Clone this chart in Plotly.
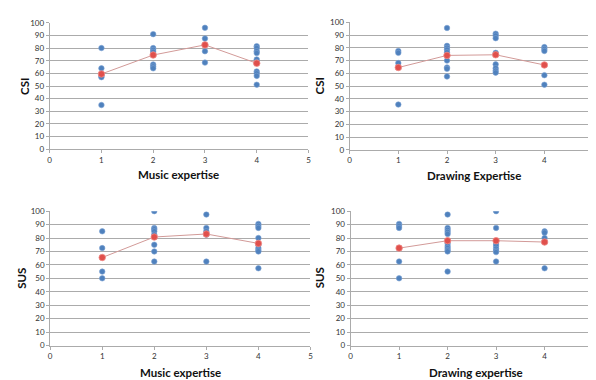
import plotly.graph_objects as go

# ---- data ----
levels = [1, 2, 3, 4]

csi_music = {
    1: [80, 64, 58, 57, 35],
    2: [91, 80, 78.5, 77, 75, 67, 65.5, 64],
    3: [96, 87.5, 82.5, 77.5, 68.5],
    4: [81.5, 80, 77.5, 76, 71, 69, 61.5, 60, 58, 51],
}
csi_music_mean = [59.5, 74.5, 82.5, 68]

csi_drawing = {
    1: [77.5, 76, 68, 35.5],
    2: [95.5, 81.5, 80, 78.5, 76.5, 70, 64.5, 63.5, 57.5],
    3: [91, 89.5, 87.5, 76, 67, 64, 62, 60.5],
    4: [80.5, 79, 77.5, 58.5, 51],
}
csi_drawing_mean = [64.5, 74, 74.5, 66.5]

sus_music = {
    1: [85, 72.5, 55, 50],
    2: [100, 87.5, 86.5, 85, 82.5, 75, 70, 62.5],
    3: [97.5, 87.5, 85, 82.5, 62.5],
    4: [90.5, 89, 87.5, 80, 75, 72.5, 71, 70, 57.5],
}
sus_music_mean = [65.5, 80.75, 83, 76]

sus_drawing = {
    1: [90.5, 89, 87.5, 72.5, 62.5, 50],
    2: [97.5, 87.5, 86, 84.5, 83, 76, 74, 72.5, 71, 70, 55],
    3: [100, 87.5, 75.5, 74, 72, 70.5, 69.5, 62.5],
    4: [85, 84, 80, 77, 57.5],
}
sus_drawing_mean = [72.5, 78, 78, 77]

x_ticks = [0, 1, 2, 3, 4, 5]
y_ticks = list(range(0, 101, 10))

panels = [
    (csi_music, csi_music_mean, "Music expertise", "CSI"),
    (csi_drawing, csi_drawing_mean, "Drawing Expertise", "CSI"),
    (sus_music, sus_music_mean, "Music expertise", "SUS"),
    (sus_drawing, sus_drawing_mean, "Drawing expertise", "SUS"),
]

W, H = 596, 380
# pixel boxes of each plot area: (left, right, top, bottom)
boxes = [
    (40, 301, 10, 140),
    (342.5, 588, 9.5, 140.5),
    (40.5, 303, 203.5, 341.5),
    (343.5, 588, 203.5, 341.5),
]
title_pos = [(170, 166, 14, 75), (468, 167, 312, 75), (172, 369, 12, 272), (470, 369, 312, 272)]

BLUE = "#4f81bd"
RED = "#e0504c"
GRID = "#ababab"
FONT = "Lato"

fig = go.Figure()
layout = dict(
    width=W, height=H, margin=dict(l=0, r=0, t=0, b=0),
    paper_bgcolor="white", plot_bgcolor="white", showlegend=False,
    font=dict(family=FONT, color="#333333", size=8),
)
annotations = []
for i, (pts, means, xt, yt) in enumerate(panels):
    n = i + 1
    xa = "x" if n == 1 else f"x{n}"
    ya = "y" if n == 1 else f"y{n}"
    xs, ys = [], []
    for lv in levels:
        for v in pts[lv]:
            xs.append(lv)
            ys.append(v)
    fig.add_trace(go.Scatter(
        x=xs, y=ys, mode="markers", xaxis=xa, yaxis=ya,
        marker=dict(color=BLUE, size=5.5, line=dict(color="#7ea3d4", width=0.6)),
        hoverinfo="x+y"))
    fig.add_trace(go.Scatter(
        x=levels, y=means, mode="lines+markers", xaxis=xa, yaxis=ya,
        line=dict(color="#d29a98", width=1),
        marker=dict(color=RED, size=6.5, line=dict(color="#f08a86", width=0.8)),
        hoverinfo="x+y"))
    l, r, t, b = boxes[i]
    key_x = "xaxis" if n == 1 else f"xaxis{n}"
    key_y = "yaxis" if n == 1 else f"yaxis{n}"
    layout[key_x] = dict(
        domain=[l / W, min(r / W, 1.0)], range=[0, 5], anchor=ya,
        tickmode="array", tickvals=x_ticks, ticktext=[str(v) for v in x_ticks],
        showgrid=False, zeroline=False, showline=True, linecolor=GRID, linewidth=1,
        ticks="outside", ticklen=3, tickcolor=GRID, tickfont=dict(size=8, color="#333"),
        fixedrange=True,
    )
    layout[key_y] = dict(
        domain=[1 - b / H, 1 - t / H], range=[0, 100], anchor=xa,
        tickmode="array", tickvals=y_ticks, ticktext=[str(v) for v in y_ticks],
        showgrid=True, gridcolor=GRID, gridwidth=1, zeroline=False,
        showline=True, linecolor=GRID, linewidth=1,
        ticks="outside", ticklen=3, tickcolor=GRID, tickfont=dict(size=8, color="#333"),
        fixedrange=True,
    )
    tx, ty, yx, yy = title_pos[i]
    annotations.append(dict(
        text=f"<b>{xt}</b>", x=tx / W, y=1 - ty / H, xref="paper", yref="paper",
        showarrow=False, xanchor="center", yanchor="middle",
        font=dict(family=FONT, size=11.5, color="#111")))
    annotations.append(dict(
        text=f"<b>{yt}</b>", x=yx / W, y=1 - yy / H, xref="paper", yref="paper",
        showarrow=False, xanchor="center", yanchor="middle", textangle=-90,
        font=dict(family=FONT, size=11.5, color="#111")))

layout["annotations"] = annotations
fig.update_layout(**layout)
fig.write_html("out.html")
